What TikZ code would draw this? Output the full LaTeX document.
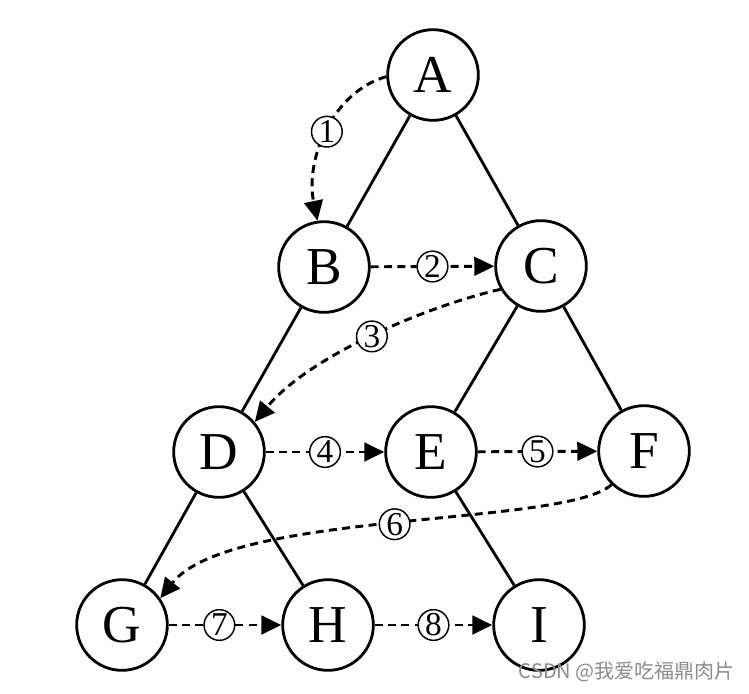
\documentclass[tikz,border=0pt]{standalone}
\usepackage{fontspec}
\setmainfont{Liberation Serif}
\newfontfamily\cjk{Noto Sans CJK SC}
\usetikzlibrary{arrows.meta}
\begin{document}
\begin{tikzpicture}[x=0.75pt,y=-0.75pt,
  vertex/.style={circle,draw,line width=2.1pt,minimum size=68pt,inner sep=0pt,
    font=\fontsize{40}{40}\selectfont},
  tree/.style={line width=2.1pt},
  visit/.style={line width=2.2pt,dash pattern=on 6pt off 4pt,
    -{Triangle[length=15pt,width=14pt]}},
  num/.style={circle,draw,solid,line width=1.1pt,fill=white,minimum size=23pt,inner sep=0pt,
    font=\fontsize{25}{25}\selectfont},
  wmark/.style={anchor=east,text=black!45,inner sep=0pt,font=\cjk\fontsize{15}{15}\selectfont}]
\useasboundingbox[fill=white] (0,0) rectangle (749,693);
% vertices
\node[vertex] (A) at (433,75) {A};
\node[vertex] (B) at (324,267) {B};
\node[vertex] (C) at (541,266) {C};
\node[vertex] (D) at (219,452) {D};
\node[vertex] (E) at (431,452) {E};
\node[vertex] (F) at (644,451) {F};
\node[vertex] (G) at (122,625) {G};
\node[vertex] (H) at (328,625) {H};
\node[vertex] (I) at (539,625) {I};
% tree edges
\draw[tree] (A) -- (B);
\draw[tree] (A) -- (C);
\draw[tree] (B) -- (D);
\draw[tree] (C) -- (E);
\draw[tree] (C) -- (F);
\draw[tree] (D) -- (G);
\draw[tree] (D) -- (H);
\draw[tree] (E) -- (I);
% visiting order
\draw[visit] (A.182) .. controls (332,92) and (305,160) .. (B.98) node[num,pos=0.5] {1};
\draw[visit] (B) -- (C) node[num,midway] {2};
\draw[visit] (C.210) .. controls (430,305) and (310,355) .. (D.40) node[num,pos=0.5] {3};
\draw[visit] (D) -- (E) node[num,midway] {4};
\draw[visit] (E) -- (F) node[num,midway] {5};
\draw[visit] (F.226) .. controls (565,527) and (230,510) .. (G.35) node[num,pos=0.5] {6};
\draw[visit] (G) -- (H) node[num,pos=0.45] {7};
\draw[visit] (H) -- (I) node[num,midway] {8};
% watermark
\node[wmark] (wm) at (735,672) {CSDN @我爱吃福鼎肉片};
\end{tikzpicture}
\end{document}
